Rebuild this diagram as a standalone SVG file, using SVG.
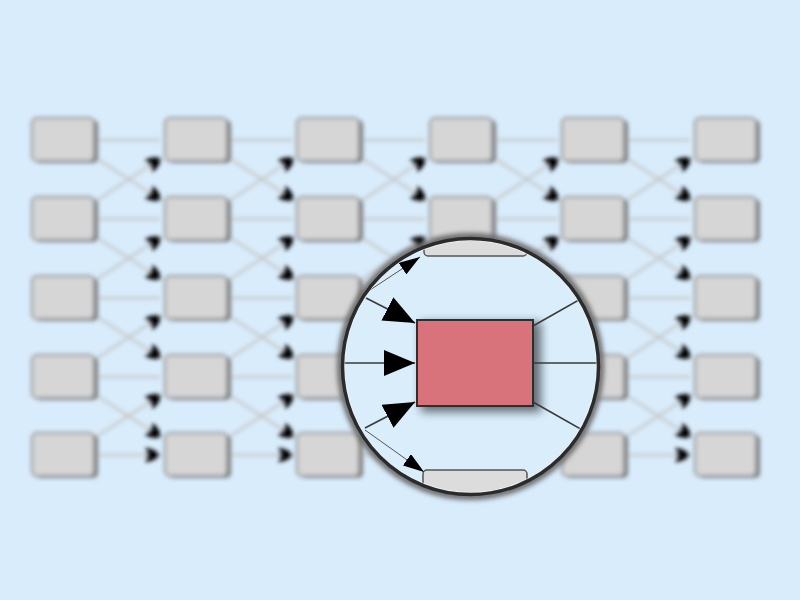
<svg xmlns="http://www.w3.org/2000/svg" width="800" height="600" viewBox="0 0 800 600">
<defs>
<style>
.box{fill:#d6d6d6;stroke:#8e8e8e;stroke-width:2}
.boxsh{fill:#7a7a7a}
.edge{stroke:#c6c6c6;stroke-width:2.4;fill:none;marker-end:url(#sa)}
.mline{stroke:#3a3a3a;stroke-width:1.6;fill:none}
.thin{stroke:#555;stroke-width:1;fill:none;marker-end:url(#ma)}
</style>
<filter id="blur" x="-5%" y="-5%" width="110%" height="110%"><feGaussianBlur stdDeviation="1.9"/></filter>
<filter id="sh" x="-30%" y="-30%" width="160%" height="160%"><feGaussianBlur stdDeviation="5"/></filter>
<filter id="halo" x="-20%" y="-20%" width="140%" height="140%"><feGaussianBlur stdDeviation="2.5"/></filter>
<marker id="sa" markerUnits="userSpaceOnUse" markerWidth="18" markerHeight="16" refX="16" refY="8" orient="auto"><path d="M1,1 Q10,1 16,8 Q10,15 1,15 Q5,8 1,1 z" fill="#000"/></marker>
<marker id="ba" markerUnits="userSpaceOnUse" markerWidth="32" markerHeight="26" refX="31" refY="13" orient="auto"><path d="M0,0 L31,13 L0,26 z" fill="#000"/></marker>
<marker id="ma" markerUnits="userSpaceOnUse" markerWidth="22" markerHeight="14" refX="21" refY="7" orient="auto"><path d="M0,0 L21,7 L0,14 z" fill="#000"/></marker>
<clipPath id="lens"><circle cx="470.5" cy="366.5" r="127"/></clipPath>
</defs>
<rect width="800" height="600" fill="#d8ecfb"/>
<g id="grid" filter="url(#blur)">
<g id="connectors">
<path class="edge" d="M97,140 H160 M97,219 H160 M97,298 H160 M97,377 H160 M97,455 H160"/>
<path class="edge" d="M230,140 H293 M230,219 H293 M230,298 H293 M230,377 H293 M230,455 H293"/>
<path class="edge" d="M362,140 H425 M362,219 H425 M362,298 H425 M362,377 H425 M362,455 H425"/>
<path class="edge" d="M495,140 H558 M495,219 H558 M495,298 H558 M495,377 H558 M495,455 H558"/>
<path class="edge" d="M627,140 H690 M627,219 H690 M627,298 H690 M627,377 H690 M627,455 H690"/>
<line class="edge" x1="96" y1="158" x2="161" y2="200"/><line class="edge" x1="96" y1="237" x2="161" y2="279"/><line class="edge" x1="96" y1="316" x2="161" y2="358"/><line class="edge" x1="96" y1="395" x2="161" y2="437"/>
<line class="edge" x1="96" y1="201" x2="161" y2="158"/><line class="edge" x1="96" y1="280" x2="161" y2="237"/><line class="edge" x1="96" y1="359" x2="161" y2="316"/><line class="edge" x1="96" y1="437" x2="161" y2="395"/>
<line class="edge" x1="229" y1="158" x2="294" y2="200"/><line class="edge" x1="229" y1="237" x2="294" y2="279"/><line class="edge" x1="229" y1="316" x2="294" y2="358"/><line class="edge" x1="229" y1="395" x2="294" y2="437"/>
<line class="edge" x1="229" y1="201" x2="294" y2="158"/><line class="edge" x1="229" y1="280" x2="294" y2="237"/><line class="edge" x1="229" y1="359" x2="294" y2="316"/><line class="edge" x1="229" y1="437" x2="294" y2="395"/>
<line class="edge" x1="361" y1="158" x2="426" y2="200"/><line class="edge" x1="361" y1="237" x2="426" y2="279"/><line class="edge" x1="361" y1="316" x2="426" y2="358"/><line class="edge" x1="361" y1="395" x2="426" y2="437"/>
<line class="edge" x1="361" y1="201" x2="426" y2="158"/><line class="edge" x1="361" y1="280" x2="426" y2="237"/><line class="edge" x1="361" y1="359" x2="426" y2="316"/><line class="edge" x1="361" y1="437" x2="426" y2="395"/>
<line class="edge" x1="494" y1="158" x2="559" y2="200"/><line class="edge" x1="494" y1="237" x2="559" y2="279"/><line class="edge" x1="494" y1="316" x2="559" y2="358"/><line class="edge" x1="494" y1="395" x2="559" y2="437"/>
<line class="edge" x1="494" y1="201" x2="559" y2="158"/><line class="edge" x1="494" y1="280" x2="559" y2="237"/><line class="edge" x1="494" y1="359" x2="559" y2="316"/><line class="edge" x1="494" y1="437" x2="559" y2="395"/>
<line class="edge" x1="626" y1="158" x2="691" y2="200"/><line class="edge" x1="626" y1="237" x2="691" y2="279"/><line class="edge" x1="626" y1="316" x2="691" y2="358"/><line class="edge" x1="626" y1="395" x2="691" y2="437"/>
<line class="edge" x1="626" y1="201" x2="691" y2="158"/><line class="edge" x1="626" y1="280" x2="691" y2="237"/><line class="edge" x1="626" y1="359" x2="691" y2="316"/><line class="edge" x1="626" y1="437" x2="691" y2="395"/>
</g>
<g id="nodes">
<g id="n00"><rect class="boxsh" x="35" y="120" width="63" height="43" rx="5"/><rect class="box" x="32" y="118" width="62" height="43" rx="5"/></g>
<g id="n01"><rect class="boxsh" x="35" y="199" width="63" height="43" rx="5"/><rect class="box" x="32" y="197" width="62" height="43" rx="5"/></g>
<g id="n02"><rect class="boxsh" x="35" y="278" width="63" height="43" rx="5"/><rect class="box" x="32" y="276" width="62" height="43" rx="5"/></g>
<g id="n03"><rect class="boxsh" x="35" y="357" width="63" height="43" rx="5"/><rect class="box" x="32" y="355" width="62" height="43" rx="5"/></g>
<g id="n04"><rect class="boxsh" x="35" y="435" width="63" height="43" rx="5"/><rect class="box" x="32" y="433" width="62" height="43" rx="5"/></g>
<g id="n10"><rect class="boxsh" x="168" y="120" width="63" height="43" rx="5"/><rect class="box" x="165" y="118" width="62" height="43" rx="5"/></g>
<g id="n11"><rect class="boxsh" x="168" y="199" width="63" height="43" rx="5"/><rect class="box" x="165" y="197" width="62" height="43" rx="5"/></g>
<g id="n12"><rect class="boxsh" x="168" y="278" width="63" height="43" rx="5"/><rect class="box" x="165" y="276" width="62" height="43" rx="5"/></g>
<g id="n13"><rect class="boxsh" x="168" y="357" width="63" height="43" rx="5"/><rect class="box" x="165" y="355" width="62" height="43" rx="5"/></g>
<g id="n14"><rect class="boxsh" x="168" y="435" width="63" height="43" rx="5"/><rect class="box" x="165" y="433" width="62" height="43" rx="5"/></g>
<g id="n20"><rect class="boxsh" x="300" y="120" width="63" height="43" rx="5"/><rect class="box" x="297" y="118" width="62" height="43" rx="5"/></g>
<g id="n21"><rect class="boxsh" x="300" y="199" width="63" height="43" rx="5"/><rect class="box" x="297" y="197" width="62" height="43" rx="5"/></g>
<g id="n22"><rect class="boxsh" x="300" y="278" width="63" height="43" rx="5"/><rect class="box" x="297" y="276" width="62" height="43" rx="5"/></g>
<g id="n23"><rect class="boxsh" x="300" y="357" width="63" height="43" rx="5"/><rect class="box" x="297" y="355" width="62" height="43" rx="5"/></g>
<g id="n24"><rect class="boxsh" x="300" y="435" width="63" height="43" rx="5"/><rect class="box" x="297" y="433" width="62" height="43" rx="5"/></g>
<g id="n30"><rect class="boxsh" x="433" y="120" width="63" height="43" rx="5"/><rect class="box" x="430" y="118" width="62" height="43" rx="5"/></g>
<g id="n31"><rect class="boxsh" x="433" y="199" width="63" height="43" rx="5"/><rect class="box" x="430" y="197" width="62" height="43" rx="5"/></g>
<g id="n32"><rect class="boxsh" x="433" y="278" width="63" height="43" rx="5"/><rect class="box" x="430" y="276" width="62" height="43" rx="5"/></g>
<g id="n33"><rect class="boxsh" x="433" y="357" width="63" height="43" rx="5"/><rect class="box" x="430" y="355" width="62" height="43" rx="5"/></g>
<g id="n34"><rect class="boxsh" x="433" y="435" width="63" height="43" rx="5"/><rect class="box" x="430" y="433" width="62" height="43" rx="5"/></g>
<g id="n40"><rect class="boxsh" x="565" y="120" width="63" height="43" rx="5"/><rect class="box" x="562" y="118" width="62" height="43" rx="5"/></g>
<g id="n41"><rect class="boxsh" x="565" y="199" width="63" height="43" rx="5"/><rect class="box" x="562" y="197" width="62" height="43" rx="5"/></g>
<g id="n42"><rect class="boxsh" x="565" y="278" width="63" height="43" rx="5"/><rect class="box" x="562" y="276" width="62" height="43" rx="5"/></g>
<g id="n43"><rect class="boxsh" x="565" y="357" width="63" height="43" rx="5"/><rect class="box" x="562" y="355" width="62" height="43" rx="5"/></g>
<g id="n44"><rect class="boxsh" x="565" y="435" width="63" height="43" rx="5"/><rect class="box" x="562" y="433" width="62" height="43" rx="5"/></g>
<g id="n50"><rect class="boxsh" x="698" y="120" width="62" height="43" rx="5"/><rect class="box" x="695" y="118" width="61" height="43" rx="5"/></g>
<g id="n51"><rect class="boxsh" x="698" y="199" width="62" height="43" rx="5"/><rect class="box" x="695" y="197" width="61" height="43" rx="5"/></g>
<g id="n52"><rect class="boxsh" x="698" y="278" width="62" height="43" rx="5"/><rect class="box" x="695" y="276" width="61" height="43" rx="5"/></g>
<g id="n53"><rect class="boxsh" x="698" y="357" width="62" height="43" rx="5"/><rect class="box" x="695" y="355" width="61" height="43" rx="5"/></g>
<g id="n54"><rect class="boxsh" x="698" y="435" width="62" height="43" rx="5"/><rect class="box" x="695" y="433" width="61" height="43" rx="5"/></g>
</g>
</g>
<g id="magnifier">
<circle cx="470.5" cy="366.5" r="130" fill="none" stroke="#6a6a6a" stroke-width="7" filter="url(#halo)"/>
<circle cx="470.5" cy="366.5" r="128" fill="#d9edfb"/>
<g clip-path="url(#lens)">
<rect x="424" y="170" width="103" height="86" rx="4" fill="#dcdcdc" stroke="#555" stroke-width="1.5"/>
<rect x="423" y="470" width="104" height="90" rx="4" fill="#dcdcdc" stroke="#555" stroke-width="1.5"/>
<rect x="421" y="322" width="120" height="90" fill="#000" opacity="0.55" filter="url(#sh)"/>
<g id="mag-connectors">
<line class="mline" x1="366" y1="298" x2="415" y2="323" style="marker-end:url(#ba)"/>
<line class="mline" x1="340" y1="363" x2="415" y2="363" style="marker-end:url(#ba)"/>
<line class="mline" x1="365" y1="428" x2="415" y2="402" style="marker-end:url(#ba)"/>
<line class="thin" x1="367" y1="292" x2="420" y2="257"/>
<line class="thin" x1="365" y1="430" x2="424" y2="472"/>
<line class="mline" x1="533" y1="326" x2="600" y2="288"/>
<line class="mline" x1="533" y1="363" x2="605" y2="363"/>
<line class="mline" x1="533" y1="402" x2="600" y2="440"/>
</g>
<rect id="focus-node" x="417" y="320" width="116" height="86" fill="#d9737b" stroke="#2e2e2e" stroke-width="2"/>
</g>
<circle cx="470.5" cy="366.5" r="126" fill="none" stroke="#f4f8fb" stroke-width="1" opacity="0.8"/>
<circle cx="470.5" cy="366.5" r="128" fill="none" stroke="#2b2b2b" stroke-width="3.5"/>
</g>
</svg>
